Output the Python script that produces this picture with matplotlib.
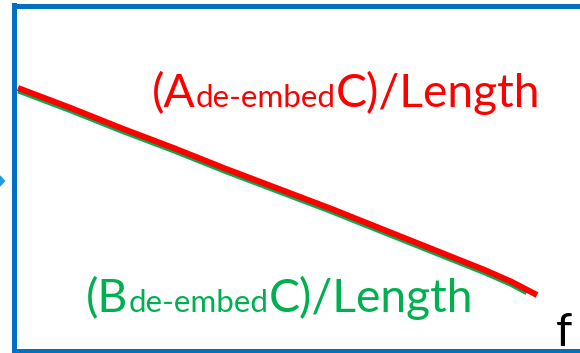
import matplotlib
matplotlib.use("Agg")
import matplotlib.pyplot as plt
from matplotlib.patches import Polygon

# ---- data (frequency in GHz, loss per length in dB/in) ----
freq_a = [0, 2, 4, 6, 8, 10, 12, 14, 16, 17, 18, 19, 20]
loss_a = [-0.10, -0.29, -0.49, -0.68, -0.88, -1.07, -1.26, -1.46, -1.66, -1.76, -1.86, -1.97, -2.10]
freq_b = [0, 2, 4, 6, 8, 10, 12, 14, 16, 17, 18, 19, 19.6]
loss_b = [-0.13, -0.32, -0.52, -0.71, -0.91, -1.10, -1.29, -1.49, -1.69, -1.79, -1.89, -2.00, -2.08]

label_a = ["(A", "de-embed", "C)/Length"]
label_b = ["(B", "de-embed", "C)/Length"]
axis_label = "f"

RED = "#FF0000"
GREEN = "#00B050"
BLUE = "#0070C0"

W, H = 580, 353
fig = plt.figure(figsize=(W / 100, H / 100), dpi=100)

# axes box in pixels
left_px, top_px, bot_px, right_px = 13.5, 5.5, 350.5, 592
ax = fig.add_axes([left_px / W, (H - bot_px) / H, (right_px - left_px) / W, (bot_px - top_px) / H])
ax.set_xlim(-0.173, -0.173 + (right_px - left_px) / 25.95)
ax.set_ylim(-0.1 - (bot_px - 88) / 103.5, -0.1 + (88 - top_px) / 103.5)
for s in ax.spines.values():
    s.set_color(BLUE)
    s.set_linewidth(5 * 0.72)
ax.set_xticks([])
ax.set_yticks([])

ax.plot(freq_b, loss_b, color=GREEN, lw=4.5 * 0.72, solid_capstyle="butt", zorder=2)
ax.plot(freq_a, loss_a, color=RED, lw=6 * 0.72, solid_capstyle="butt", zorder=3)

FONT = "Lato"
BIG, SMALL = 33.3, 22.6


def chain(parts, x0, y0, color):
    fig.canvas.draw()
    r = fig.canvas.get_renderer()
    x = x0
    for i, p in enumerate(parts):
        size = SMALL if i == 1 else BIG
        t = fig.text(x / W, 1 - y0 / H, p, fontsize=size, family=FONT, color=color,
                     ha="left", va="baseline")
        bb = t.get_window_extent(renderer=r)
        x += bb.width


chain(label_a, 152, 107, RED)
chain(label_b, 86, 312, GREEN)
fig.text(556 / W, 1 - 346 / H, axis_label, fontsize=BIG, family=FONT, color="black",
         ha="left", va="baseline")

# small arrow tip at the left edge
tri = Polygon([[0, 1 - 176 / H], [4.5 / W, 1 - 181 / H], [0, 1 - 186 / H]],
              closed=True, transform=fig.transFigure, color="#1F9BDE", zorder=5)
fig.patches.append(tri)

fig.savefig("out.png", dpi=100)
